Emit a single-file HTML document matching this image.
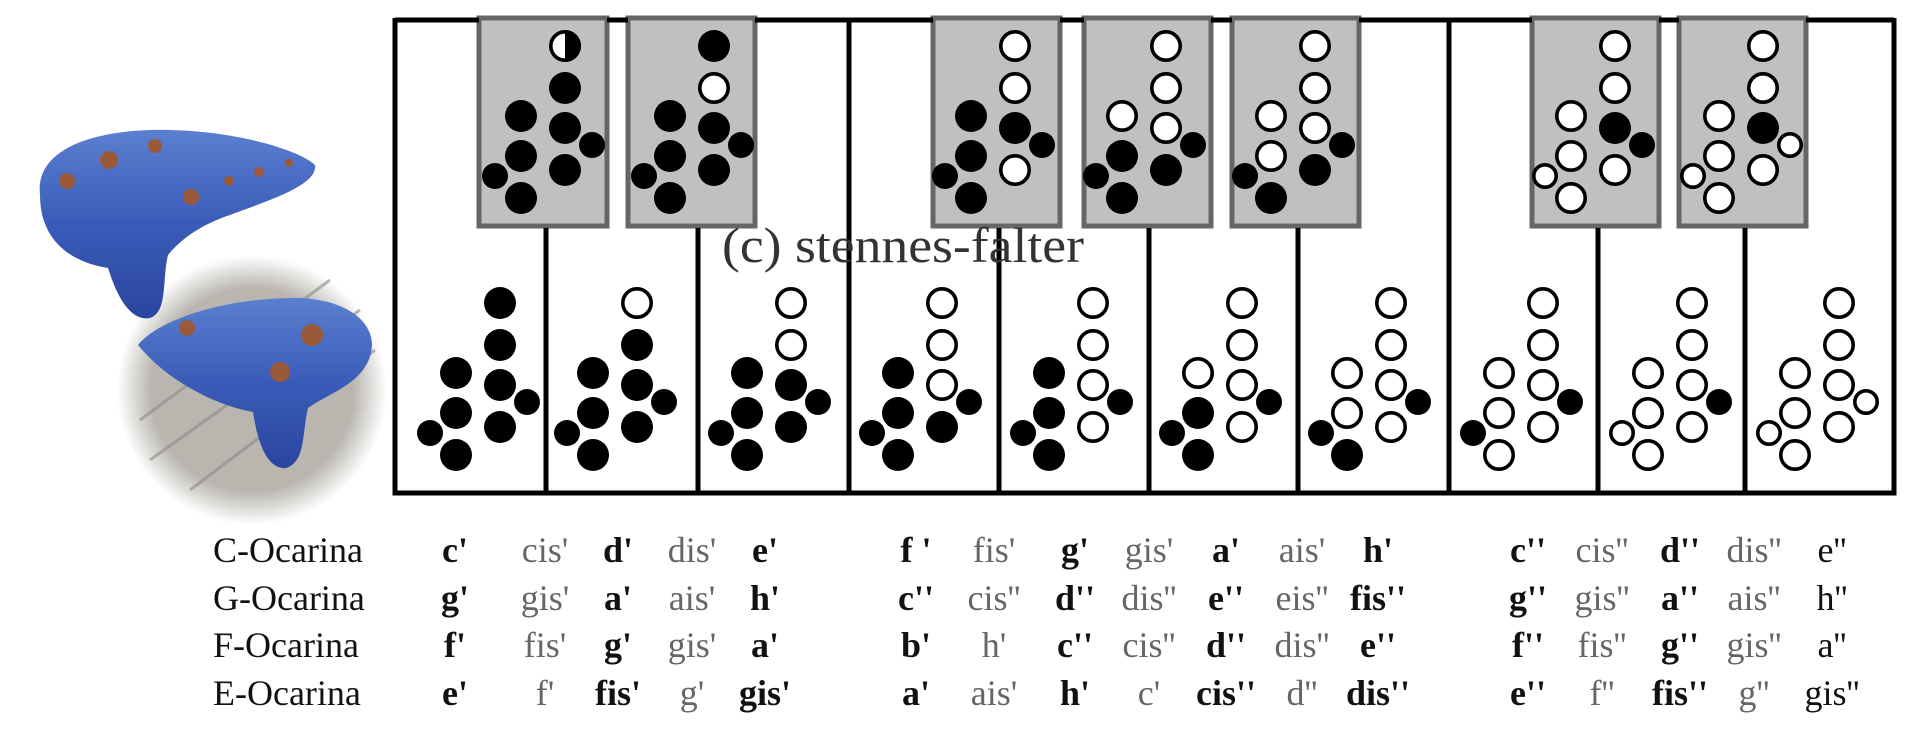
<!DOCTYPE html>
<html><head><meta charset="utf-8"><style>
html,body{margin:0;padding:0;background:#fff;width:1920px;height:739px;overflow:hidden}
svg{display:block}
text{font-family:"Liberation Serif",serif}
</style></head><body>
<svg id="s" width="1920" height="739" viewBox="0 0 1920 739" xmlns="http://www.w3.org/2000/svg">
<defs>
<radialGradient id="wood" cx="0.5" cy="0.5" r="0.5">
<stop offset="0.75" stop-color="#b9b6b0"/><stop offset="1" stop-color="#ffffff"/>
</radialGradient>
<linearGradient id="blue" x1="0" y1="0" x2="0" y2="1">
<stop offset="0" stop-color="#5b7fd0"/><stop offset="0.5" stop-color="#3a5cb8"/><stop offset="1" stop-color="#2a45a0"/>
</linearGradient>
</defs>
<circle cx="252" cy="390" r="135" fill="url(#wood)"/>
<g stroke="#8d8a85" stroke-width="3" opacity="0.6">
<line x1="140" y1="420" x2="330" y2="280"/><line x1="150" y1="460" x2="360" y2="310"/><line x1="190" y1="490" x2="375" y2="350"/>
</g>
<path d="M40,195 C35,150 90,132 150,130 C230,128 300,150 315,165 C318,185 270,200 230,215 C200,225 180,240 168,255 C162,280 168,312 150,318 C128,322 115,290 108,268 C70,262 40,240 40,195 Z" fill="url(#blue)"/>
<path d="M138,345 C160,318 230,297 300,298 C345,300 372,320 372,345 C370,382 330,392 308,408 C302,432 306,462 286,468 C264,470 256,432 253,412 C218,406 168,382 138,345 Z" fill="url(#blue)"/>
<g fill="#9a5a3a">
<circle cx="67" cy="181" r="8"/><circle cx="109" cy="160" r="9"/><circle cx="155" cy="146" r="7"/><circle cx="191" cy="197" r="8"/><circle cx="229" cy="181" r="5"/><circle cx="259" cy="172" r="5"/><circle cx="289" cy="163" r="4"/>
<circle cx="187" cy="328" r="8"/><circle cx="312" cy="335" r="11"/><circle cx="280" cy="372" r="10"/>
</g>
<g id="boxes" fill="#c0c0c0" stroke="#666" stroke-width="5"></g>
<g stroke="#000" stroke-width="5" fill="none">
<path d="M395,20 H479 M607,20 H628 M755,20 H933 M1060,20 H1084 M1211,20 H1232 M1359,20 H1532 M1659,20 H1679 M1806,20 H1894"/>
<path d="M1894,18 V493 H395 V18"/>
<path d="M546,228 V493 M698,228 V493 M999,228 V493 M1149,228 V493 M1298,228 V493 M1598,228 V493 M1745,228 V493 M849,20 V493 M1449,20 V493"/>
</g>
<text x="722" y="262" font-size="50" fill="#333" textLength="362" lengthAdjust="spacingAndGlyphs">(c) stennes-falter</text>
<g id="holes"></g>
<g id="txt" font-size="36"></g>
</svg>
<script>
var NS="http://www.w3.org/2000/svg";
function el(p,n,a){var e=document.createElementNS(NS,n);for(var k in a)e.setAttribute(k,a[k]);p.appendChild(e);return e;}
var boxes=document.getElementById('boxes');
[[479,607],[628,755],[933,1060],[1084,1211],[1232,1359],[1532,1659],[1679,1806]].forEach(function(b){
 el(boxes,'rect',{x:b[0],y:18,width:b[1]-b[0],height:208});
});
var H=document.getElementById('holes');
var pos=[[108,0,16],[108,42,16],[108,82,16],[108,124,16],[64,70,16],[64,110,16],[64,152,16],[38,130,13],[135,99,13]];
function pat(ox,oy,s){
 for(var i=0;i<9;i++){var p=pos[i],cx=ox+p[0],cy=oy+p[1],r=p[2];
  if(s[i]=='1')el(H,'circle',{cx:cx,cy:cy,r:r,fill:'#000'});
  else if(s[i]=='0')el(H,'circle',{cx:cx,cy:cy,r:r-1.8,fill:'#fff',stroke:'#000','stroke-width':3.6});
  else{el(H,'circle',{cx:cx,cy:cy,r:r-1.8,fill:'#fff',stroke:'#000','stroke-width':3.6});
   el(H,'path',{d:'M'+cx+','+(cy-r)+' A'+r+','+r+' 0 0 1 '+cx+','+(cy+r)+' Z',fill:'#000'});}
 }
}
var low=[[392,'111111111'],[529,'011111111'],[683,'001111111'],[834,'000111111'],[985,'000011111'],[1134,'000001111'],[1283,'000000111'],[1435,'000000011'],[1584,'000000001'],[1731,'000000000']];
low.forEach(function(a){pat(a[0],303,a[1]);});
var up=[[457,'211111111'],[606,'101111111'],[907,'001011111'],[1058,'000101111'],[1207,'000100111'],[1507,'001000001'],[1655,'001000000']];
up.forEach(function(a){pat(a[0],46,a[1]);});
var T=document.getElementById('txt');
var xs=[455,545,618,692,765,916,994,1075,1149,1226,1302,1378,1528,1602,1680,1754,1832];
var ys=[562,610,657,705];
var labels=['C-Ocarina','G-Ocarina','F-Ocarina','E-Ocarina'];
var rows=[
"c'|B;cis'|g;d'|B;dis'|g;e'|B;f '|B;fis'|g;g'|B;gis'|g;a'|B;ais'|g;h'|B;c''|B;cis''|g;d''|B;dis''|g;e''|n",
"g'|B;gis'|g;a'|B;ais'|g;h'|B;c''|B;cis''|g;d''|B;dis''|g;e''|B;eis''|g;fis''|B;g''|B;gis''|g;a''|B;ais''|g;h''|n",
"f'|B;fis'|g;g'|B;gis'|g;a'|B;b'|B;h'|g;c''|B;cis''|g;d''|B;dis''|g;e''|B;f''|B;fis''|g;g''|B;gis''|g;a''|n",
"e'|B;f'|g;fis'|B;g'|g;gis'|B;a'|B;ais'|g;h'|B;c'|g;cis''|B;d''|g;dis''|B;e''|B;f''|g;fis''|B;g''|g;gis''|n"];
rows.forEach(function(r,ri){
 var t=el(T,'text',{x:213,y:ys[ri],fill:'#111'});t.textContent=labels[ri];
 r.split(';').forEach(function(w,ci){var q=w.split('|');
  var a={x:xs[ci],y:ys[ri],'text-anchor':'middle'};
  if(q[1]=='B'){a.fill='#111';a['font-weight']='bold';}else if(q[1]=='g'){a.fill='#666';}else a.fill='#111';
  var e=el(T,'text',a);e.textContent=q[0];});
});
</script>
</body></html>
